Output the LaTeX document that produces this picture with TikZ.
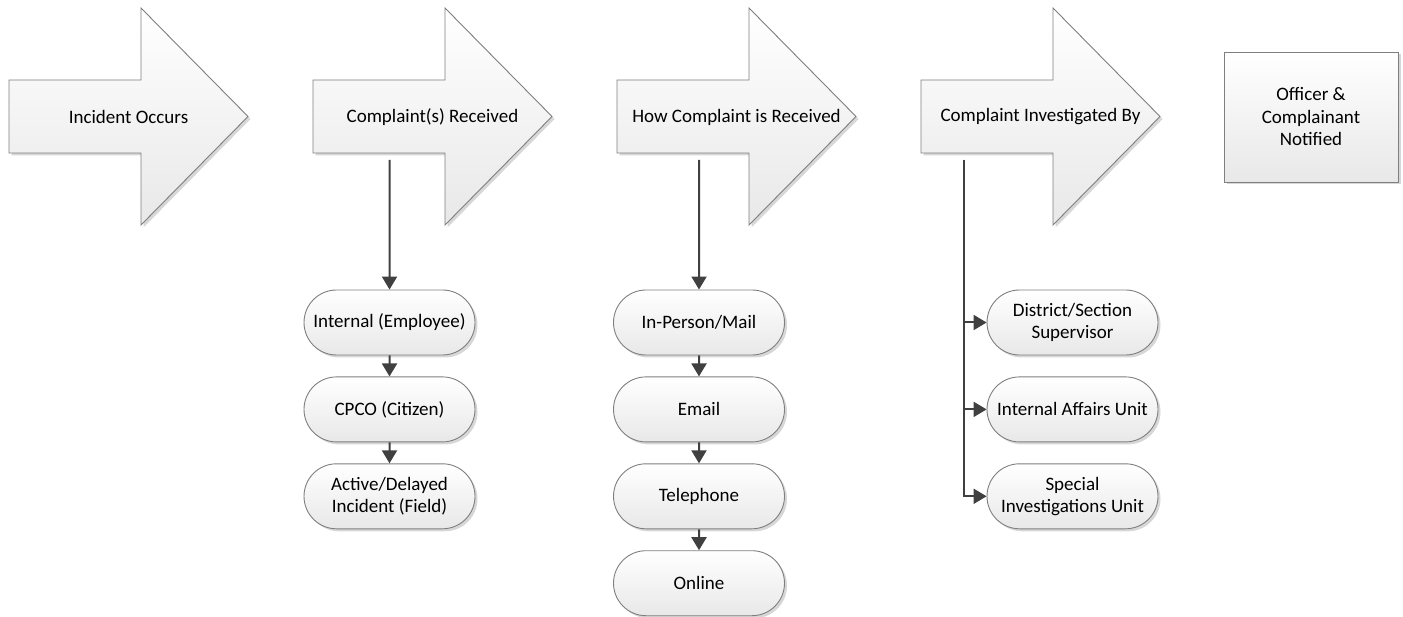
\documentclass[tikz,border=0pt]{standalone}
\usepackage{fontspec}
\setmainfont{Carlito}
\usepackage{tikz}
\usetikzlibrary{arrows.meta,positioning,shapes.misc,shadows}
\usepackage{xcolor}
\definecolor{StepLine}{HTML}{7F7F7F}
\definecolor{StepFill}{HTML}{E8E8E8}
\definecolor{LinkGray}{HTML}{404040}

\begin{document}
\begin{tikzpicture}[x=1pt,y=-1pt,node distance=21pt and 21pt,
    every node/.style={font=\fontsize{19}{22.5}\selectfont,align=center},
    soft/.style={draw=StepLine,line width=0.9pt,top color=white,bottom color=StepFill,
      drop shadow={shadow xshift=2.5pt,shadow yshift=-2.5pt,fill=black!45,opacity=0.35}},
    pill/.style={soft,rounded rectangle,minimum width=175pt,minimum height=65pt,inner sep=2pt},
    link/.style={-{Triangle[length=13pt,width=15pt]},line width=2pt,LinkGray}]
    \useasboundingbox (0,0) rectangle (1403,617);
    % stages (big block arrows)
    \foreach \n/\cx/\t in {occurs/128.5/{Incident Occurs},received/432.5/{Complaint(s) Received},
        how/736.5/{How Complaint is Received},investigated/1040.5/{Complaint Investigated By}}{
      \path[soft] (\cx-119.5,80) -- (\cx+12.5,80) -- (\cx+12.5,8) -- (\cx+119.5,116.5)
        -- (\cx+12.5,225) -- (\cx+12.5,153) -- (\cx-119.5,153) -- cycle;
      \node (\n) at (\cx,117) {\t};
    }
    \node[soft,rectangle,minimum width=174pt,minimum height=130pt] (notified) at (1311,117) {Officer \&\\Complainant\\Notified};
    % who complains
    \coordinate (receivedout) at (389.5,160);
    \node[pill] (internal) at (389.5,322.5) {Internal (Employee)};
    \node[pill,below=of internal] (cpco) {CPCO (Citizen)};
    \node[pill,below=of cpco] (field) {Active/Delayed\\Incident (Field)};
    \draw[link] (receivedout) -- (internal);
    \foreach \x/\y in {internal/cpco,cpco/field}{\draw[link] (\x)--(\y);}
    % how it comes in
    \coordinate (howout) at (699,160);
    \node[pill] (inperson) at (699,322.5) {In-Person/Mail};
    \node[pill,below=of inperson] (email) {Email};
    \node[pill,below=of email] (phone) {Telephone};
    \node[pill,below=of phone] (online) {Online};
    \draw[link] (howout) -- (inperson);
    \foreach \x/\y in {inperson/email,email/phone,phone/online}{\draw[link] (\x)--(\y);}
    % who investigates
    \coordinate (investout) at (964,160);
    \node[pill] (district) at (1072.5,322.5) {District/Section\\Supervisor};
    \node[pill,below=of district] (iau) {Internal Affairs Unit};
    \node[pill,below=of iau] (siu) {Special\\Investigations Unit};
    \foreach \y in {district,iau,siu}{\draw[link] (investout) |- (\y.west);}
  \end{tikzpicture}
\end{document}
